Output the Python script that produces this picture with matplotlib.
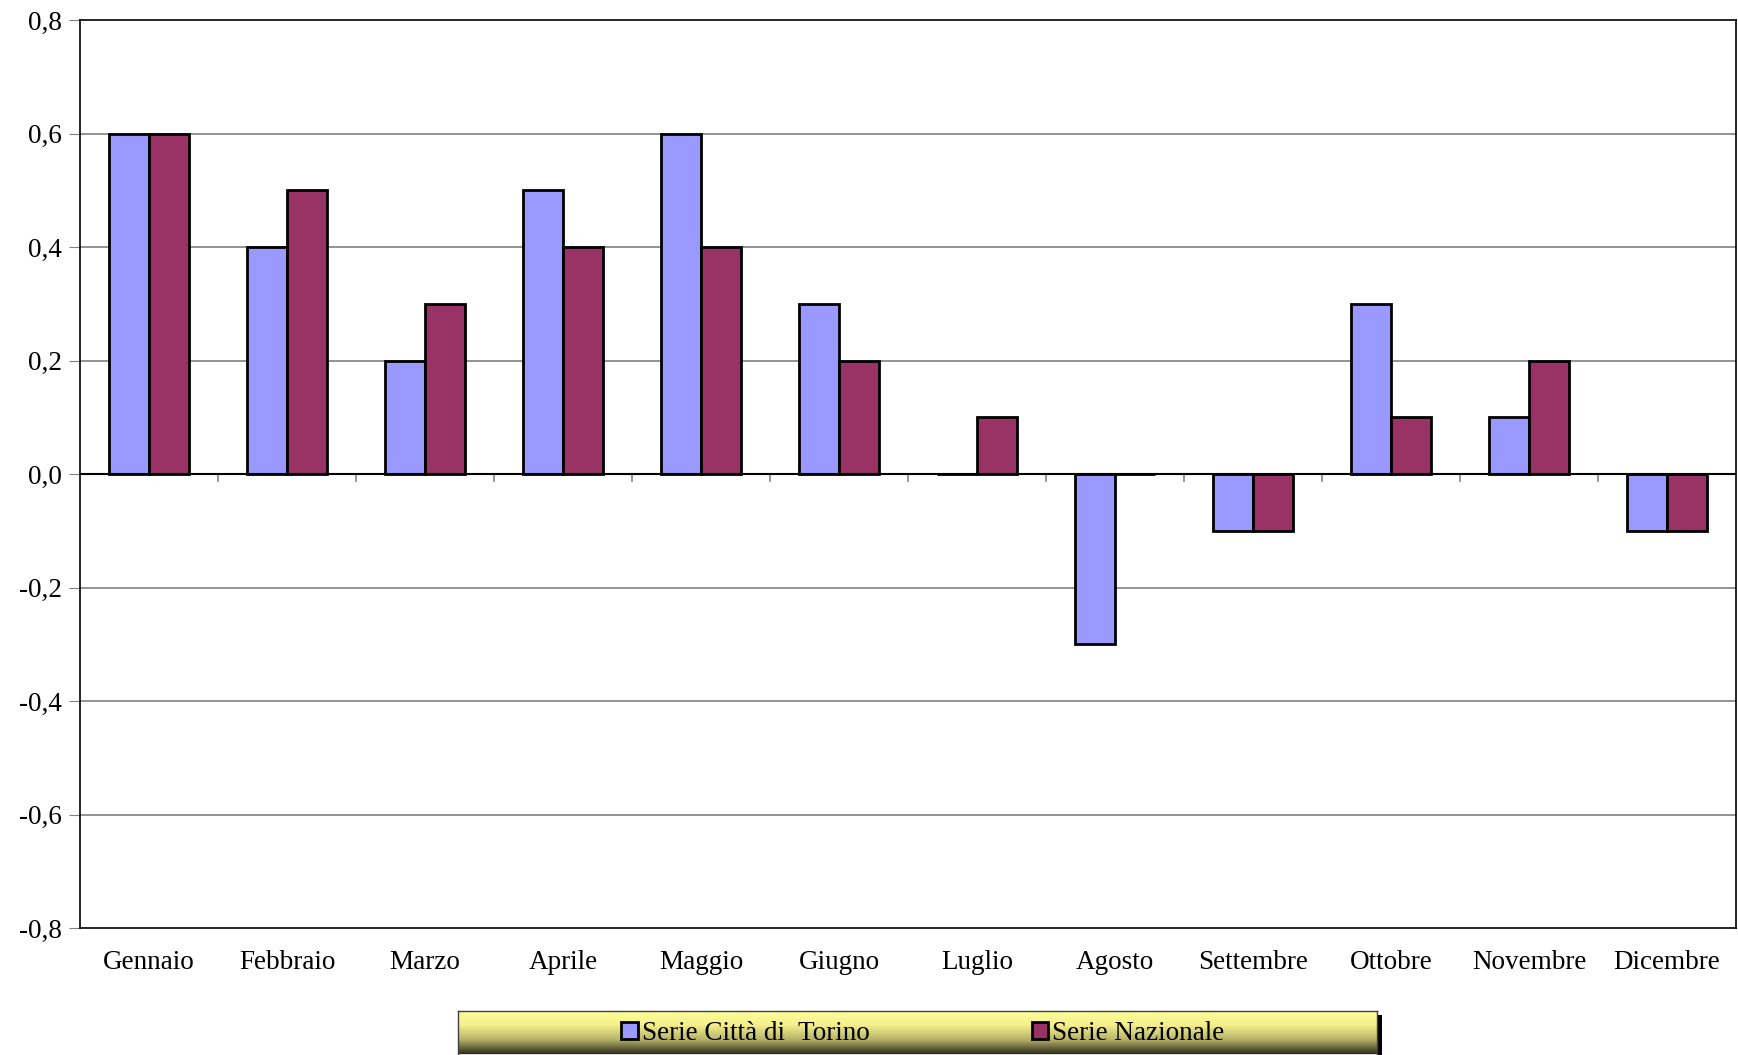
import numpy as np
import matplotlib
matplotlib.use("Agg")
import matplotlib.pyplot as plt
from matplotlib.patches import Rectangle

mesi = ["Gennaio", "Febbraio", "Marzo", "Aprile", "Maggio", "Giugno",
        "Luglio", "Agosto", "Settembre", "Ottobre", "Novembre", "Dicembre"]
torino = [0.6, 0.4, 0.2, 0.5, 0.6, 0.3, 0.0, -0.3, -0.1, 0.3, 0.1, -0.1]
nazionale = [0.6, 0.5, 0.3, 0.4, 0.4, 0.2, 0.1, 0.0, -0.1, 0.1, 0.2, -0.1]
yticks = [-0.8, -0.6, -0.4, -0.2, 0.0, 0.2, 0.4, 0.6, 0.8]

plt.rcParams["font.family"] = ["Liberation Serif", "DejaVu Serif"]

fig = plt.figure(figsize=(17.38, 10.55), dpi=100)
ax = fig.add_axes([80 / 1738, 1 - 928 / 1055, 1656 / 1738, 908 / 1055])

x = np.arange(len(mesi))
w = 0.29
ax.bar(x - w / 2, torino, w, color="#9999FF", edgecolor="black", linewidth=2,
       label="Serie Città di  Torino", zorder=3)
ax.bar(x + w / 2, nazionale, w, color="#993366", edgecolor="black", linewidth=2,
       label="Serie Nazionale", zorder=3)

ax.set_xlim(-0.5, len(mesi) - 0.5)
ax.set_ylim(-0.8, 0.8)
ax.set_yticks(yticks)
ax.set_yticklabels([f"{v:.1f}".replace(".", ",") for v in yticks])
for v in yticks[1:-1]:
    if v != 0:
        ax.axhline(v, color="#808080", linewidth=1.2, zorder=1)
ax.axhline(0, color="black", linewidth=1.5, zorder=4)

# category ticks along the zero line
for b in np.arange(0.5, len(mesi) - 0.5):
    ax.plot([b, b], [0, -0.012], color="#808080", linewidth=1.2, zorder=2, clip_on=False)

ax.set_xticks(x)
ax.set_xticklabels(mesi)
ax.tick_params(axis="x", length=0, pad=16, labelsize=19.5)
ax.tick_params(axis="y", length=8, color="#808080", labelsize=19.5, pad=5)
for s in ax.spines.values():
    s.set_color("black")
    s.set_linewidth(1.2)

# legend box with gradient and shadow
lx, ly, lw, lh = 458 / 1738, 0, 919 / 1738, 44 / 1055
shadow = fig.add_axes([lx + 5 / 1738, ly - 4 / 1055, lw, lh])
shadow.add_patch(Rectangle((0, 0), 1, 1, color="black"))
shadow.set_axis_off()
lax = fig.add_axes([lx, ly + 0.5 / 1055, lw, lh])
grad = np.linspace(0, 1, 100).reshape(-1, 1)
cmap = matplotlib.colors.LinearSegmentedColormap.from_list(
    "leg", ["#FFFF99", "#F5F08C", "#B8B46A", "#2E2E1E"])
lax.imshow(grad, aspect="auto", cmap=cmap, extent=[0, 1, 0, 1])
lax.set_xticks([])
lax.set_yticks([])
for s in lax.spines.values():
    s.set_color("#404040")
    s.set_linewidth(1)
handles, labels = ax.get_legend_handles_labels()
lax.legend(handles, labels, loc="center", ncol=2, frameon=False, fontsize=19.5,
           handlelength=0.6, handleheight=0.6, handletextpad=0.15,
           columnspacing=6.0, borderaxespad=0,
           bbox_to_anchor=(0.506, 0.47))

fig.savefig("out.png", dpi=100)
